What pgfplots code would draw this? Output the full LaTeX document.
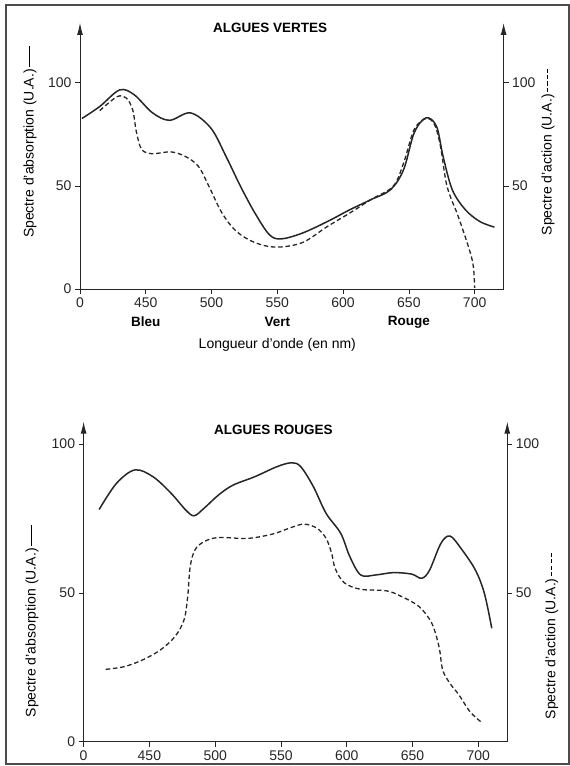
\documentclass[border=0pt]{standalone}
\usepackage{fontspec}
\setmainfont{Liberation Sans}
\usepackage{pgfplots}
\pgfplotsset{compat=1.18}
\usetikzlibrary{arrows.meta}

\newcommand\solidmark{\rule[0.3em]{1.5em}{0.7pt}}
\newcommand\dashmark{\rule[0.3em]{0.3em}{0.7pt}\kern0.15em\rule[0.3em]{0.3em}{0.7pt}\kern0.15em\rule[0.3em]{0.3em}{0.7pt}\kern0.15em\rule[0.3em]{0.3em}{0.7pt}}

\pgfplotsset{
  spec/.style={
    scale only axis, enlargelimits=false,
    xmin=400, xmax=722, ymin=0,
    axis x line=bottom, axis y line=left,
    axis line style={line width=0.9pt, black!85},
    x axis line style={-},
    y axis line style={-{Latex[length=12pt,width=6pt]}},
    tick align=outside, major tick length=5pt,
    tick style={black!85, line width=0.7pt},
    xtick={400,450,...,700}, xticklabels={0,450,500,550,600,650,700},
    ytick={0,50,100},
    /pgf/number format/assume math mode=true,
    tick label style={font=\fontsize{14}{16}\selectfont, text=black!85},
    clip=false,
  },
  specright/.style={
    scale only axis, enlargelimits=false,
    xmin=400, xmax=722, ymin=0,
    axis x line=none, axis y line=right,
    axis line style={line width=0.9pt, black!85},
    y axis line style={-{Latex[length=12pt,width=6pt]}},
    tick align=outside, major tick length=5pt,
    tick style={black!85, line width=0.7pt},
    ytick={50,100},
    /pgf/number format/assume math mode=true,
    tick label style={font=\fontsize{14}{16}\selectfont, text=black!85},
  },
  absorb/.style={smooth, tension=0.55, line width=1.5pt, black!85},
  action/.style={smooth, tension=0.55, line width=1.3pt, black!85, dash pattern=on 4.5pt off 2.8pt},
}

\begin{document}
\begin{tikzpicture}[x=1pt,y=1pt]
\useasboundingbox (0,0) rectangle (570,766);
\draw[line width=1.2pt, black!70] (6,2) rectangle (569,761);

% ---- Algues vertes ----
\begin{axis}[spec, at={(80pt,477pt)}, anchor=south west,
  width=423.6pt, height=266pt, ymax=129]
\addplot[absorb] coordinates {
 (401.5,82.7) (415,88.5) (430,96.5) (441,94.3) (455,85.5) (468,81.8) (484,85.4)
 (499.5,78) (511,64.3) (522,49.8) (533,36.8) (544,26.3) (553,24.3)
 (569,27.1) (588,32.7) (605,38.4) (621,43.3) (636,48.1) (646,57.9)
 (654,75.7) (663,83) (671,78.9) (676,64.3) (683,48.1) (693,38.4)
 (704,32.7) (715,30)
};
\addplot[action] coordinates {
 (415,86.5) (428,93.2) (435,92.7) (440,87) (443,75.7) (447,67.6) (455,65.6)
 (469,66.5) (480,64.3) (490,59.5) (498,49.8) (508,36.8) (519,27.9)
 (533,22.5) (549,20.3) (569,22.5) (588,30.3) (605,36.8) (621,43.3)
 (638,49.8) (646,61.1) (654,77.3) (663,82.7) (669.5,79.7) (674,69.2)
 (679,49.8) (687.5,35.2) (696,19) (699,10.9) (700,0.5)
};
\node[font=\fontsize{13.5}{15}\selectfont\bfseries] at (rel axis cs:0.449,0.981) {ALGUES VERTES};
\node[rotate=90, font=\fontsize{14}{16}\selectfont] at (rel axis cs:-0.118,0.553) {Spectre d'absorption (U.A.)\,\solidmark};
\node[rotate=90, font=\fontsize{14}{16}\selectfont] at (rel axis cs:1.105,0.515) {Spectre d'action (U.A.)\,\dashmark};
\node[font=\fontsize{13.5}{15}\selectfont\bfseries] at ([yshift=-33pt]axis cs:450,0) {Bleu};
\node[font=\fontsize{13.5}{15}\selectfont\bfseries] at ([yshift=-33pt]axis cs:550,0) {Vert};
\node[font=\fontsize{13.5}{15}\selectfont\bfseries] at ([yshift=-33pt]axis cs:650,0) {Rouge};
\node[font=\fontsize{14}{16}\selectfont] at ([yshift=-56pt]axis cs:550,0) {Longueur d'onde (en nm)};
\end{axis}
\begin{axis}[specright, at={(80pt,477pt)}, anchor=south west,
  width=423.6pt, height=266pt, ymax=129]
\end{axis}

% ---- Algues rouges ----
\begin{axis}[spec, at={(83.6pt,24.3pt)}, anchor=south west,
  width=423.7pt, height=320pt, ymax=107.5]
\addplot[absorb] coordinates {
 (411.8,78) (425,86.8) (439,91.3) (452.8,89) (466.6,83.4) (477.7,77.8)
 (484,75.9) (491.5,78.4) (502.6,82.9) (513.6,86.2) (530,89) (547,92.4)
 (558,93.7) (565,92.4) (574.6,85.7) (584.3,76.7) (595.4,70) (602.3,62.2)
 (610.6,56) (621.7,56) (635.5,56.8) (649.3,56.3) (657,54.9) (663,57.7)
 (671.5,66.6) (678.4,69.1) (686.7,65) (697.7,57.7) (704.6,49.8) (710.2,38.1)
};
\addplot[action] coordinates {
 (416.8,24.3) (430.7,25.2) (444.5,27.4) (458.3,30.8) (469.4,35.3) (476.3,40.9)
 (479.1,48.7) (481,58.8) (484.6,64.4) (491.5,67.2) (502.6,68.6) (524.7,68.3)
 (544,69.8) (558,72) (567.7,73.1) (577.4,71.7) (584.3,68.3) (588.5,63.3)
 (591.2,58.2) (598.1,53.4) (610.6,51.2) (629.9,50.7) (641,48.9) (654.9,45.4)
 (664.6,39.8) (670.1,31.9) (672.9,24.1) (678.4,19.6) (685.3,15.7)
 (693.6,10.1) (701.9,6.7)
};
\node[font=\fontsize{13.5}{15}\selectfont\bfseries] at (rel axis cs:0.448,0.974) {ALGUES ROUGES};
\node[rotate=90, font=\fontsize{14}{16}\selectfont] at (rel axis cs:-0.122,0.377) {Spectre d'absorption (U.A.)\,\solidmark};
\node[rotate=90, font=\fontsize{14}{16}\selectfont] at (rel axis cs:1.105,0.33) {Spectre d'action (U.A.)\,\dashmark};
\end{axis}
\begin{axis}[specright, at={(83.6pt,24.3pt)}, anchor=south west,
  width=423.7pt, height=320pt, ymax=107.5]
\end{axis}
\end{tikzpicture}
\end{document}
